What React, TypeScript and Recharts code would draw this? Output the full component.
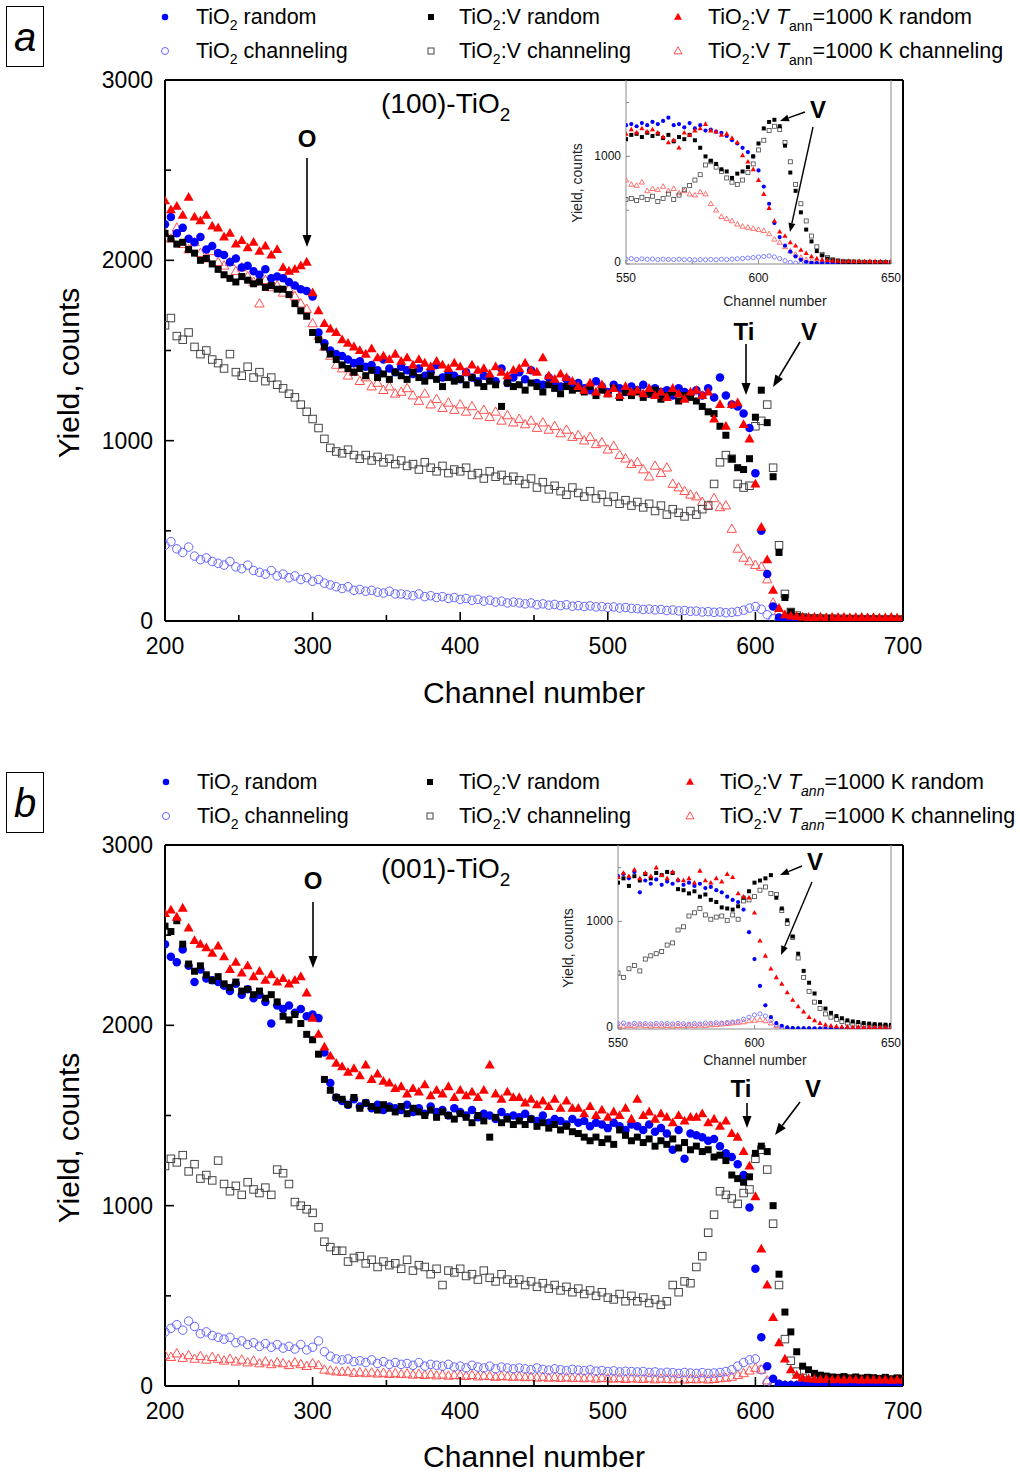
import React from 'react';
import { ScatterChart, Scatter, XAxis, YAxis, ReferenceLine } from 'recharts';

const FONT = '"Liberation Sans", Arial, Helvetica, sans-serif';

// ---------- categories / ticks ----------
const CHANNELS = [
  200,204,208,212,216,220,224,228,232,236,
  240,244,248,252,256,260,264,268,272,276,
  280,284,288,292,296,300,304,308,312,316,
  320,324,328,332,336,340,344,348,352,356,
  360,364,368,372,376,380,384,388,392,396,
  400,404,408,412,416,420,424,428,432,436,
  440,444,448,452,456,460,464,468,472,476,
  480,484,488,492,496,500,504,508,512,516,
  520,524,528,532,536,540,544,548,552,556,
  560,564,568,572,576,580,584,588,592,596,
  600,604,608,612,616,620,624,628,632,636,
  640,644,648,652,656,660,664,668,672,676,
  680,684,688,692,696,700,
];
const INSET_CHANNELS = [
  550,552,554,556,558,560,562,564,566,568,
  570,572,574,576,578,580,582,584,586,588,
  590,592,594,596,598,600,602,604,606,608,
  610,612,614,616,618,620,622,624,626,628,
  630,632,634,636,638,640,642,644,646,648,
  650,
];
const X_TICKS = [200,250,300,350,400,450,500,550,600,650,700];
const X_LABELS = [200,300,400,500,600,700];
const Y_TICKS = [0,500,1000,1500,2000,2500,3000];
const Y_LABELS = [0,1000,2000,3000];
const IX_TICKS = [550,575,600,625,650];
const IX_LABELS = [550,600,650];
const IY_TICKS = [0,500,1000,1500];
const IY_LABELS = [0,1000];

// ---------- panel a: (100)-TiO2 ----------
const A_TIO2_RANDOM = [
  2200,2240,2150,2180,2120,2100,2130,2060,2080,2040,
  2030,1990,2010,1960,1970,1940,1920,1950,1900,1910,
  1900,1880,1860,1840,1830,1800,1600,1540,1500,1480,
  1470,1450,1430,1440,1410,1420,1390,1450,1400,1380,
  1410,1390,1370,1400,1360,1380,1420,1350,1370,1360,
  1340,1380,1350,1330,1360,1340,1330,1400,1320,1350,
  1380,1340,1390,1320,1310,1350,1320,1300,1340,1310,
  1320,1290,1280,1330,1300,1270,1310,1290,1270,1300,
  1280,1310,1260,1290,1270,1280,1250,1290,1270,1260,
  1280,1250,1290,1240,1350,1250,1200,1190,1150,1070,
  820,500,260,80,20,10,7,6,5,5,
  4,5,4,3,4,5,3,4,3,4,
  3,4,3,4,3,3,
];
const A_TIO2V_RANDOM = [
  2150,2120,2090,2100,2060,2040,2000,2010,1980,1950,
  1920,1900,1880,1910,1890,1870,1880,1850,1860,1840,
  1840,1810,1760,1720,1690,1600,1560,1520,1480,1450,
  1420,1400,1380,1400,1360,1390,1350,1370,1340,1380,
  1360,1340,1380,1350,1330,1360,1340,1300,1350,1330,
  1340,1310,1350,1320,1300,1330,1310,1190,1320,1300,
  1310,1280,1320,1300,1270,1310,1290,1260,1300,1280,
  1290,1270,1300,1250,1280,1260,1290,1240,1270,1250,
  1270,1240,1260,1280,1230,1250,1270,1220,1250,1240,
  1220,1190,1160,1150,1080,1030,900,850,840,900,
  1130,1280,1100,800,380,130,50,25,15,12,
  10,11,9,10,8,9,10,8,9,8,
  9,8,7,9,8,7,
];
const A_TIO2V_ANN_RANDOM = [
  2330,2280,2300,2250,2350,2240,2220,2250,2190,2180,
  2130,2150,2090,2110,2070,2100,2050,2080,2030,2060,
  1960,1940,1950,1970,1990,1820,1720,1650,1620,1600,
  1560,1540,1520,1500,1480,1510,1460,1470,1450,1480,
  1440,1460,1420,1450,1430,1410,1440,1420,1400,1430,
  1410,1380,1420,1390,1400,1370,1410,1380,1360,1390,
  1400,1430,1390,1380,1460,1360,1340,1370,1350,1330,
  1300,1280,1320,1270,1310,1260,1290,1250,1300,1270,
  1280,1260,1290,1250,1270,1240,1290,1260,1230,1270,
  1280,1250,1270,1120,1200,1080,1200,1210,1090,1010,
  760,520,340,170,70,35,28,25,22,20,
  20,22,18,21,19,20,18,19,20,18,
  19,17,18,20,17,18,
];
const A_TIO2_CHAN = [
  420,440,400,380,410,360,340,350,330,320,
  310,330,300,290,310,280,270,260,280,250,
  260,240,250,230,240,220,230,210,200,190,
  180,190,170,175,165,170,160,155,165,150,
  150,145,140,150,135,140,130,135,125,130,
  120,125,115,120,110,115,105,110,100,105,
  100,95,100,90,95,88,92,85,90,82,
  85,80,84,78,80,75,78,72,75,70,
  68,64,66,62,64,58,61,56,58,54,
  55,50,52,48,50,46,48,52,60,72,
  80,65,35,12,5,4,3,3,2,2,
  2,2,2,2,2,2,2,2,2,2,
  2,2,2,2,2,2,
];
const A_TIO2V_CHAN = [
  1640,1680,1580,1560,1600,1520,1480,1500,1450,1430,
  1400,1480,1380,1360,1410,1350,1380,1330,1350,1310,
  1290,1260,1240,1200,1160,1120,1070,1010,960,940,
  930,950,920,900,920,890,910,880,900,870,
  890,860,870,840,880,850,830,860,820,840,
  830,850,810,820,790,830,800,810,780,800,
  780,760,790,740,770,730,750,720,700,740,
  710,690,720,680,700,660,690,650,670,640,
  660,630,650,610,640,590,620,600,580,610,
  590,620,640,760,880,920,900,760,740,750,
  1080,1110,1200,850,420,150,50,30,20,16,
  15,14,12,13,11,12,10,11,10,9,
  10,9,8,9,8,8,
];
const A_TIO2V_ANN_CHAN = [
  2150,2120,2180,2090,2060,2100,2040,2010,2050,1990,
  1970,1990,1940,1960,1910,1880,1760,1890,1850,1860,
  1820,1840,1800,1760,1730,1650,1580,1520,1470,1420,
  1400,1360,1380,1330,1350,1300,1320,1280,1300,1260,
  1270,1290,1250,1220,1260,1200,1230,1180,1210,1170,
  1200,1160,1190,1140,1170,1130,1160,1110,1140,1100,
  1120,1090,1110,1070,1100,1060,1080,1040,1060,1020,
  1030,1000,1020,980,990,950,970,920,900,870,
  880,840,800,860,820,850,760,740,720,700,
  690,660,640,680,630,640,510,400,350,330,
  310,300,230,100,55,30,22,18,16,15,
  15,14,16,13,15,14,13,14,12,13,
  12,13,12,11,12,11,
];

// inset a (550-650)
const IA_TIO2_RANDOM = [
  1290,1300,1280,1310,1290,1320,1300,1330,1360,1290,
  1300,1270,1310,1260,1290,1240,1250,1230,1220,1190,
  1150,1120,1080,1040,1000,870,720,560,380,250,
  170,115,70,40,20,10,8,6,5,5,
  4,5,4,4,3,4,3,4,3,3,
  3,
];
const IA_TIO2V_RANDOM = [
  1160,1200,1210,1180,1220,1190,1210,1170,1200,1140,
  1180,1160,1200,1150,1080,1000,960,930,880,860,
  800,840,860,900,1000,1120,1260,1320,1340,1280,
  1100,850,680,480,320,210,120,80,50,35,
  25,20,18,16,15,14,15,13,12,12,
  11,
];
const IA_TIO2V_ANN_RANDOM = [
  1210,1250,1220,1260,1230,1250,1220,1180,1130,1150,
  1080,1220,1200,1240,1260,1300,1240,1230,1200,1210,
  1170,1130,1010,950,880,780,650,520,400,300,
  260,200,170,130,100,70,50,40,35,30,
  28,25,27,24,26,23,25,22,24,22,
  23,
];
const IA_TIO2_CHAN = [
  45,50,42,48,44,46,40,45,43,41,
  44,40,42,38,41,39,42,40,44,41,
  45,48,52,55,60,65,70,75,65,50,
  30,15,8,5,4,3,3,3,2,2,
  2,2,2,2,2,2,2,2,2,2,
  2,
];
const IA_TIO2V_CHAN = [
  600,610,590,620,600,630,580,610,650,600,
  640,690,730,780,830,920,950,900,860,800,
  760,740,780,850,930,1060,1150,1240,1280,1250,
  1130,950,740,560,400,260,160,90,60,40,
  30,25,22,20,18,17,16,15,15,14,
  14,
];
const IA_TIO2V_ANN_CHAN = [
  780,740,730,760,680,700,690,720,680,700,
  660,680,650,640,670,650,560,500,440,420,
  400,370,350,340,330,320,310,280,230,200,
  160,120,90,60,40,30,25,22,20,18,
  17,16,18,15,16,14,15,16,14,15,
  14,
];

// ---------- panel b: (001)-TiO2 ----------
const B_TIO2_RANDOM = [
  2450,2380,2350,2420,2330,2240,2310,2260,2250,2240,
  2220,2190,2230,2170,2200,2150,2170,2130,2010,2110,
  2090,2110,2070,2090,2050,2060,2040,1850,1680,1600,
  1580,1560,1590,1550,1570,1540,1560,1530,1550,1540,
  1530,1560,1520,1540,1510,1550,1520,1530,1500,1540,
  1520,1500,1530,1490,1510,1500,1480,1520,1490,1500,
  1490,1510,1480,1470,1500,1460,1480,1470,1450,1480,
  1460,1470,1440,1460,1450,1430,1460,1440,1420,1450,
  1440,1420,1450,1410,1430,1400,1310,1420,1260,1400,
  1390,1380,1360,1370,1330,1290,1270,1230,1170,990,
  650,270,110,40,12,6,5,4,4,3,
  3,4,3,3,4,3,3,4,3,3,
  3,3,4,3,3,3,
];
const B_TIO2V_RANDOM = [
  2550,2520,2580,2450,2340,2300,2330,2280,2250,2270,
  2230,2210,2240,2190,2200,2170,2190,2150,2170,2130,
  2050,2030,2060,2010,1950,1920,1840,1700,1640,1600,
  1590,1560,1600,1540,1570,1550,1530,1560,1540,1520,
  1550,1510,1540,1520,1500,1530,1490,1520,1500,1480,
  1510,1490,1460,1500,1470,1380,1490,1460,1480,1450,
  1470,1450,1480,1440,1460,1430,1450,1420,1440,1410,
  1400,1380,1360,1380,1350,1370,1340,1420,1390,1360,
  1380,1350,1370,1330,1360,1340,1370,1320,1350,1310,
  1330,1300,1310,1270,1280,1250,1170,1150,1130,1160,
  1290,1330,1300,1000,620,410,300,190,110,90,
  70,60,55,50,48,52,45,50,44,48,
  46,42,48,40,45,43,
];
const B_TIO2V_ANN_RANDOM = [
  2620,2640,2600,2650,2540,2470,2450,2430,2400,2440,
  2380,2310,2350,2290,2330,2270,2300,2250,2280,2240,
  2260,2230,2250,2270,2180,2040,1950,1880,1830,1790,
  1770,1740,1760,1720,1780,1700,1730,1690,1680,1650,
  1660,1620,1650,1630,1670,1610,1640,1620,1660,1600,
  1640,1610,1630,1600,1640,1780,1620,1590,1630,1600,
  1600,1570,1590,1560,1580,1550,1590,1540,1580,1540,
  1540,1510,1550,1500,1530,1490,1520,1500,1540,1480,
  1590,1500,1520,1480,1510,1490,1460,1500,1470,1490,
  1490,1510,1460,1480,1440,1470,1400,1380,1300,1220,
  1050,760,560,380,240,150,90,60,45,40,
  38,36,38,35,37,34,36,35,33,35,
  34,33,35,32,34,33,
];
const B_TIO2_CHAN = [
  300,320,340,310,360,330,290,300,280,270,
  260,270,240,250,230,240,220,235,215,230,
  210,220,205,230,200,215,250,190,165,150,
  145,150,135,140,130,145,125,135,120,130,
  120,125,115,130,110,120,115,110,120,105,
  110,100,115,105,100,110,95,105,100,95,
  100,95,90,100,92,88,95,90,85,92,
  88,85,90,82,86,80,84,78,82,80,
  78,80,75,78,72,76,74,70,75,72,
  70,74,70,72,75,80,90,110,130,145,
  150,90,20,5,3,2,2,2,2,2,
  2,2,2,2,2,2,2,2,2,2,
  2,2,2,2,2,2,
];
const B_TIO2V_CHAN = [
  1220,1260,1240,1280,1190,1230,1150,1170,1140,1250,
  1120,1080,1110,1060,1130,1090,1070,1100,1060,1200,
  1180,1120,1020,1000,980,960,880,800,770,750,
  750,690,710,720,680,700,660,690,670,680,
  650,700,640,670,660,620,650,560,640,630,
  650,610,620,590,640,600,580,620,590,570,
  590,560,580,550,570,540,560,530,550,520,
  540,510,530,500,520,490,480,510,470,500,
  470,490,460,480,450,470,560,520,580,570,
  660,720,850,950,1080,1060,1040,1010,1070,1090,
  1260,1310,1200,900,560,260,140,80,45,30,
  20,18,16,17,15,14,15,13,14,12,
  13,12,11,12,11,10,
];
const B_TIO2V_ANN_CHAN = [
  170,160,180,155,170,150,165,145,160,150,
  140,150,135,145,130,140,125,135,120,130,
  125,115,130,120,110,125,115,90,85,80,
  78,80,72,75,70,74,68,72,66,70,
  65,68,62,66,60,64,58,62,56,60,
  58,55,60,52,56,54,50,55,52,50,
  52,48,50,46,50,45,48,44,47,43,
  45,42,46,40,44,42,40,43,38,42,
  40,38,42,36,40,38,36,40,35,38,
  36,40,35,38,42,45,50,60,70,85,
  100,90,30,10,6,5,4,4,4,4,
  4,4,4,4,4,4,4,4,4,4,
  4,4,4,4,4,4,
];

// inset b (550-650)
const IB_TIO2_RANDOM = [
  1420,1440,1400,1460,1270,1380,1350,1390,1340,1370,
  1350,1380,1340,1360,1330,1350,1310,1320,1290,1270,
  1230,1200,1180,1110,900,650,400,220,110,55,
  30,15,8,6,5,5,4,4,4,3,
  3,3,3,3,3,3,3,3,3,3,
  3,
];
const IB_TIO2V_RANDOM = [
  1360,1400,1330,1420,1380,1440,1400,1450,1430,1460,
  1450,1300,1290,1260,1280,1230,1250,1200,1180,1130,
  1120,1110,1140,1220,1280,1360,1380,1400,1430,1220,
  1120,1010,860,700,540,430,330,250,190,150,
  120,100,80,70,65,55,50,45,42,40,
  38,
];
const IB_TIO2V_ANN_RANDOM = [
  1410,1450,1420,1480,1400,1450,1420,1500,1430,1400,
  1460,1390,1380,1400,1360,1470,1380,1360,1400,1370,
  1440,1410,1260,1230,1220,1080,820,680,560,480,
  420,340,270,210,160,110,80,55,40,30,
  25,22,20,18,20,17,18,16,17,15,
  16,
];
const IB_TIO2_CHAN = [
  50,55,45,52,48,50,46,52,48,50,
  47,52,49,46,50,48,55,52,58,55,
  60,65,72,90,110,130,140,120,80,40,
  15,5,3,2,2,2,2,2,2,2,
  2,2,2,2,2,2,2,2,2,2,
  2,
];
const IB_TIO2V_CHAN = [
  520,480,560,590,540,650,680,700,720,780,
  800,920,950,1050,1080,1120,1060,1020,1040,1050,
  1010,1060,1020,1190,1200,1230,1290,1320,1260,1250,
  1100,980,850,660,480,350,250,190,140,110,
  90,70,55,45,40,35,30,28,25,24,
  22,
];
const IB_TIO2V_ANN_CHAN = [
  30,25,32,28,35,30,26,32,28,30,
  27,31,29,33,30,35,32,38,40,45,
  50,55,60,65,75,80,85,75,55,30,
  12,6,4,3,3,3,3,3,3,3,
  3,3,3,3,3,3,3,3,3,3,
  3,
];

// ---------- styles ----------
const C_BLUE = '#0000ff';
const C_BLUE_OPEN = '#6464ff';
const C_BLACK = '#000000';
const C_BLACK_OPEN = '#454545';
const C_RED = '#ff0000';
const C_RED_OPEN = '#ff4f4f';
const AXIS = '#000';
const INSET_AXIS = '#8a8a8a';

type Kind = 'circle' | 'square' | 'triangle';

const toPts = (xs: number[], ys: number[]) => xs.map((x, i) => ({ x, y: ys[i] }));

function makeShape(kind: Kind, size: number, color: string, filled: boolean, sw = 1) {
  return (props: any) => {
    const { cx, cy } = props;
    if (cx == null || cy == null || isNaN(cx) || isNaN(cy)) return <g />;
    return <Marker kind={kind} x={cx} y={cy} size={size} color={color} filled={filled} sw={sw} />;
  };
}

function Marker({ kind, x, y, size, color, filled, sw = 1 }: { kind: Kind; x: number; y: number; size: number; color: string; filled: boolean; sw?: number }) {
  const fill = filled ? color : 'none';
  const stroke = filled ? 'none' : color;
  if (kind === 'circle') return <circle cx={x} cy={y} r={size / 2} fill={fill} stroke={stroke} strokeWidth={sw} />;
  if (kind === 'square') return <rect x={x - size / 2} y={y - size / 2} width={size} height={size} fill={fill} stroke={stroke} strokeWidth={sw} />;
  const h = size * 0.88;
  return <polygon points={`${x},${y - h * 0.6} ${x - size / 2},${y + h * 0.4} ${x + size / 2},${y + h * 0.4}`} fill={fill} stroke={stroke} strokeWidth={sw} strokeLinejoin="miter" />;
}

type SeriesDef = { key: string; values: number[]; kind: Kind; color: string; filled: boolean };

const seriesStyle = (vals: number[][]): SeriesDef[] => [
  { key: 'annChan', values: vals[5], kind: 'triangle', color: C_RED_OPEN, filled: false },
  { key: 'vChan', values: vals[4], kind: 'square', color: C_BLACK_OPEN, filled: false },
  { key: 'tiChan', values: vals[3], kind: 'circle', color: C_BLUE_OPEN, filled: false },
  { key: 'tiRand', values: vals[0], kind: 'circle', color: C_BLUE, filled: true },
  { key: 'vRand', values: vals[1], kind: 'square', color: C_BLACK, filled: true },
  { key: 'annRand', values: vals[2], kind: 'triangle', color: C_RED, filled: true },
];

const MAIN_SIZE: Record<string, number> = { circle: 8.5, square: 7, triangle: 10 };
const MAIN_OPEN_SIZE: Record<string, number> = { circle: 8.5, square: 7.5, triangle: 9.5 };
const INSET_SIZE: Record<string, number> = { circle: 4.2, square: 4, triangle: 5.2 };

const MainXTick = (props: any) => {
  const { x, y, payload } = props;
  const v = payload.value;
  const major = X_LABELS.includes(v);
  return (
    <g>
      <line x1={x} y1={y} x2={x} y2={y - (major ? 9 : 6)} stroke={AXIS} strokeWidth={1.6} />
      {major && (
        <text x={x} y={y + 33} textAnchor="middle" fontSize={23} fontFamily={FONT} fill="#000">{v}</text>
      )}
    </g>
  );
};
const MainYTick = (props: any) => {
  const { x, y, payload } = props;
  const v = payload.value;
  const major = Y_LABELS.includes(v);
  return (
    <g>
      <line x1={x} y1={y} x2={x + (major ? 9 : 6)} y2={y} stroke={AXIS} strokeWidth={1.6} />
      {major && (
        <text x={x - 12} y={y + 8} textAnchor="end" fontSize={23} fontFamily={FONT} fill="#000">{v}</text>
      )}
    </g>
  );
};
const InsetXTick = (props: any) => {
  const { x, y, payload } = props;
  const v = payload.value;
  const major = IX_LABELS.includes(v);
  return (
    <g>
      <line x1={x} y1={y} x2={x} y2={y - (major ? 4 : 3)} stroke={INSET_AXIS} strokeWidth={1} />
      {major && (
        <text x={x} y={y + 18} textAnchor="middle" fontSize={12} fontFamily={FONT} fill="#111">{v}</text>
      )}
    </g>
  );
};
const InsetYTick = (props: any) => {
  const { x, y, payload } = props;
  const v = payload.value;
  const major = IY_LABELS.includes(v);
  return (
    <g>
      <line x1={x} y1={y} x2={x + (major ? 4 : 3)} y2={y} stroke={INSET_AXIS} strokeWidth={1} />
      {major && (
        <text x={x - 5} y={y + (v === 0 ? 2 : 4)} textAnchor="end" fontSize={12} fontFamily={FONT} fill="#111">{v}</text>
      )}
    </g>
  );
};

function MainChart({ top, vals }: { top: number; vals: number[][] }) {
  const series = seriesStyle(vals);
  return (
    <div style={{ position: 'absolute', left: 0, top, width: 1020, height: 700 }}>
      <ScatterChart width={1020} height={700} margin={{ top: 80, right: 117, left: 105, bottom: 49 }}>
        <XAxis dataKey="x" type="number" domain={[200, 700]} ticks={X_TICKS} interval={0} height={30}
          tickSize={0} tickMargin={0} tickLine={false} axisLine={{ stroke: AXIS, strokeWidth: 2 }} tick={MainXTick} allowDataOverflow />
        <YAxis dataKey="y" type="number" domain={[0, 3000]} ticks={Y_TICKS} interval={0} width={60}
          tickSize={0} tickMargin={0} tickLine={false} axisLine={{ stroke: AXIS, strokeWidth: 2 }} tick={MainYTick} allowDataOverflow />
        <ReferenceLine y={3000} stroke={AXIS} strokeWidth={2} />
        <ReferenceLine x={700} stroke={AXIS} strokeWidth={2} />
        {series.map((s) => (
          <Scatter key={s.key} data={toPts(CHANNELS, s.values)} isAnimationActive={false}
            shape={makeShape(s.kind, s.filled ? MAIN_SIZE[s.kind] : MAIN_OPEN_SIZE[s.kind], s.color, s.filled, 1)} />
        ))}
      </ScatterChart>
    </div>
  );
}

function InsetChart({ left, top, width, leftMargin, vals }: { left: number; top: number; width: number; leftMargin: number; vals: number[][] }) {
  const series = seriesStyle(vals);
  return (
    <div style={{ position: 'absolute', left, top, width, height: 260 }}>
      <ScatterChart width={width} height={260} margin={{ top: 20, right: 29, left: leftMargin, bottom: 26 }}>
        <XAxis dataKey="x" type="number" domain={[550, 650]} ticks={IX_TICKS} interval={0} height={30}
          tickSize={0} tickMargin={0} tickLine={false} axisLine={{ stroke: INSET_AXIS, strokeWidth: 1 }} tick={InsetXTick} allowDataOverflow />
        <YAxis dataKey="y" type="number" domain={[0, 1710]} ticks={IY_TICKS} interval={0} width={40}
          tickSize={0} tickMargin={0} tickLine={false} axisLine={{ stroke: INSET_AXIS, strokeWidth: 1 }} tick={InsetYTick} allowDataOverflow />
        <ReferenceLine x={650} stroke={INSET_AXIS} strokeWidth={1} />
        {series.map((s) => (
          <Scatter key={s.key} data={toPts(INSET_CHANNELS, s.values)} isAnimationActive={false}
            shape={makeShape(s.kind, INSET_SIZE[s.kind], s.color, s.filled, 0.8)} />
        ))}
      </ScatterChart>
    </div>
  );
}

function Arrow({ x1, y1, x2, y2, hl = 12, hw = 4.5, sw = 1.6 }: { x1: number; y1: number; x2: number; y2: number; hl?: number; hw?: number; sw?: number }) {
  const dx = x2 - x1, dy = y2 - y1;
  const L = Math.hypot(dx, dy);
  const ux = dx / L, uy = dy / L;
  const bx = x2 - ux * hl, by = y2 - uy * hl;
  const px = -uy, py = ux;
  return (
    <g>
      <line x1={x1} y1={y1} x2={bx} y2={by} stroke="#000" strokeWidth={sw} />
      <polygon points={`${x2},${y2} ${bx + px * hw},${by + py * hw} ${bx - px * hw},${by - py * hw}`} fill="#000" />
    </g>
  );
}

function LegendText({ x, y, base, ann, italicAnn }: { x: number; y: number; base: string; ann?: string; italicAnn?: boolean }) {
  const fs = 21.5, sub = 14;
  if (!ann) {
    return (
      <text x={x} y={y} fontSize={fs} fontFamily={FONT} fill="#000">
        <tspan>TiO</tspan><tspan dy={6} fontSize={sub}>2</tspan><tspan dy={-6}>{' ' + base}</tspan>
      </text>
    );
  }
  if (ann === 'v') {
    return (
      <text x={x} y={y} fontSize={fs} fontFamily={FONT} fill="#000">
        <tspan>TiO</tspan><tspan dy={6} fontSize={sub}>2</tspan><tspan dy={-6}>{':V ' + base}</tspan>
      </text>
    );
  }
  return (
    <text x={x} y={y} fontSize={fs} fontFamily={FONT} fill="#000">
      <tspan>TiO</tspan><tspan dy={6} fontSize={sub}>2</tspan><tspan dy={-6}>:V </tspan>
      <tspan fontStyle="italic">T</tspan>
      <tspan dy={7} fontSize={sub} fontStyle={italicAnn ? 'italic' : 'normal'}>ann</tspan>
      <tspan dy={-7}>{'=1000 K ' + base}</tspan>
    </text>
  );
}

function LegendBlock({ y1, y2, mx, tx, italicAnn }: { y1: number; y2: number; mx: number[]; tx: number[]; italicAnn: boolean }) {
  return (
    <g>
      <Marker kind="circle" x={mx[0]} y={y1} size={6.5} color={C_BLUE} filled />
      <Marker kind="circle" x={mx[0]} y={y2} size={7} color={C_BLUE_OPEN} filled={false} />
      <Marker kind="square" x={mx[1]} y={y1} size={6} color={C_BLACK} filled />
      <Marker kind="square" x={mx[1]} y={y2} size={6} color={C_BLACK_OPEN} filled={false} />
      <Marker kind="triangle" x={mx[2]} y={y1} size={8} color={C_RED} filled />
      <Marker kind="triangle" x={mx[2]} y={y2} size={8} color={C_RED_OPEN} filled={false} />
      <LegendText x={tx[0]} y={y1 + 7} base="random" />
      <LegendText x={tx[0]} y={y2 + 7} base="channeling" />
      <LegendText x={tx[1]} y={y1 + 7} base="random" ann="v" />
      <LegendText x={tx[1]} y={y2 + 7} base="channeling" ann="v" />
      <LegendText x={tx[2]} y={y1 + 7} base="random" ann="ann" italicAnn={italicAnn} />
      <LegendText x={tx[2]} y={y2 + 7} base="channeling" ann="ann" italicAnn={italicAnn} />
    </g>
  );
}

function Overlay() {
  const bold = { fontFamily: FONT, fontWeight: 700 as const, fontSize: 24, fill: '#000' };
  return (
    <svg width={1020} height={1472} style={{ position: 'absolute', left: 0, top: 0, pointerEvents: 'none' }}>
      {/* panel labels */}
      <rect x={6.5} y={6.5} width={37} height={60} fill="#fff" stroke="#000" strokeWidth={1} />
      <text x={25} y={51} textAnchor="middle" fontSize={40} fontStyle="italic" fontFamily={FONT}>a</text>
      <rect x={6.5} y={772.5} width={37} height={60} fill="#fff" stroke="#000" strokeWidth={1} />
      <text x={25} y={817} textAnchor="middle" fontSize={40} fontStyle="italic" fontFamily={FONT}>b</text>

      {/* legends */}
      <LegendBlock y1={17} y2={51} mx={[165, 431, 678]} tx={[196, 459, 708]} italicAnn={false} />
      <LegendBlock y1={782} y2={816} mx={[166, 430, 690]} tx={[197, 459, 720]} italicAnn />

      {/* titles */}
      <text x={381} y={113} fontSize={28} fontFamily={FONT}>
        <tspan>(100)-TiO</tspan><tspan dy={8} fontSize={19}>2</tspan>
      </text>
      <text x={381} y={878} fontSize={28} fontFamily={FONT}>
        <tspan>(001)-TiO</tspan><tspan dy={8} fontSize={19}>2</tspan>
      </text>

      {/* axis titles */}
      <text x={534} y={703} textAnchor="middle" fontSize={30} fontFamily={FONT}>Channel number</text>
      <text transform="translate(79,373) rotate(-90)" textAnchor="middle" fontSize={30} fontFamily={FONT}>Yield, counts</text>
      <text x={534} y={1467} textAnchor="middle" fontSize={30} fontFamily={FONT}>Channel number</text>
      <text transform="translate(79,1138) rotate(-90)" textAnchor="middle" fontSize={30} fontFamily={FONT}>Yield, counts</text>

      {/* inset axis titles */}
      <text x={775} y={306} textAnchor="middle" fontSize={14} fontFamily={FONT} fill="#222">Channel number</text>
      <text transform="translate(582,183) rotate(-90)" textAnchor="middle" fontSize={14} fontFamily={FONT} fill="#222">Yield, counts</text>
      <text x={755} y={1065} textAnchor="middle" fontSize={14} fontFamily={FONT} fill="#222">Channel number</text>
      <text transform="translate(573,948) rotate(-90)" textAnchor="middle" fontSize={14} fontFamily={FONT} fill="#222">Yield, counts</text>

      {/* panel a annotations */}
      <text x={307} y={147} textAnchor="middle" {...bold}>O</text>
      <Arrow x1={307} y1={158} x2={307} y2={247} />
      <text x={744} y={340} textAnchor="middle" {...bold}>Ti</text>
      <Arrow x1={746} y1={344} x2={746} y2={395} />
      <text x={809} y={340} textAnchor="middle" {...bold}>V</text>
      <Arrow x1={800} y1={342} x2={773} y2={387} />
      <text x={818} y={118} textAnchor="middle" {...bold}>V</text>
      <Arrow x1={805} y1={112} x2={780} y2={121} hl={9} hw={3.5} sw={1.4} />
      <Arrow x1={813} y1={127} x2={790} y2={232} hl={9} hw={3.5} sw={1.4} />

      {/* panel b annotations */}
      <text x={313} y={889} textAnchor="middle" {...bold}>O</text>
      <Arrow x1={313} y1={902} x2={313} y2={968} />
      <text x={741} y={1097} textAnchor="middle" {...bold}>Ti</text>
      <Arrow x1={747} y1={1103} x2={747} y2={1128} />
      <text x={813} y={1097} textAnchor="middle" {...bold}>V</text>
      <Arrow x1={800} y1={1102} x2={775} y2={1135} />
      <text x={815} y={870} textAnchor="middle" {...bold}>V</text>
      <Arrow x1={802} y1={866} x2={780} y2={875} hl={9} hw={3.5} sw={1.4} />
      <Arrow x1={812} y1={882} x2={781} y2={955} hl={9} hw={3.5} sw={1.4} />
    </svg>
  );
}

const A_MAIN = [A_TIO2_RANDOM, A_TIO2V_RANDOM, A_TIO2V_ANN_RANDOM, A_TIO2_CHAN, A_TIO2V_CHAN, A_TIO2V_ANN_CHAN];
const A_INSET = [IA_TIO2_RANDOM, IA_TIO2V_RANDOM, IA_TIO2V_ANN_RANDOM, IA_TIO2_CHAN, IA_TIO2V_CHAN, IA_TIO2V_ANN_CHAN];
const B_MAIN = [B_TIO2_RANDOM, B_TIO2V_RANDOM, B_TIO2V_ANN_RANDOM, B_TIO2_CHAN, B_TIO2V_CHAN, B_TIO2V_ANN_CHAN];
const B_INSET = [IB_TIO2_RANDOM, IB_TIO2V_RANDOM, IB_TIO2V_ANN_RANDOM, IB_TIO2_CHAN, IB_TIO2V_CHAN, IB_TIO2V_ANN_CHAN];

export default function App() {
  return (
    <div style={{ position: 'absolute', left: 0, top: 0, width: 1020, height: 1472, background: '#fff', fontFamily: FONT, overflow: 'hidden' }}>
      <MainChart top={0} vals={A_MAIN} />
      <MainChart top={765} vals={B_MAIN} />
      <InsetChart left={540} top={60} width={380} leftMargin={46} vals={A_INSET} />
      <InsetChart left={530} top={825} width={390} leftMargin={48} vals={B_INSET} />
      <Overlay />
    </div>
  );
}
